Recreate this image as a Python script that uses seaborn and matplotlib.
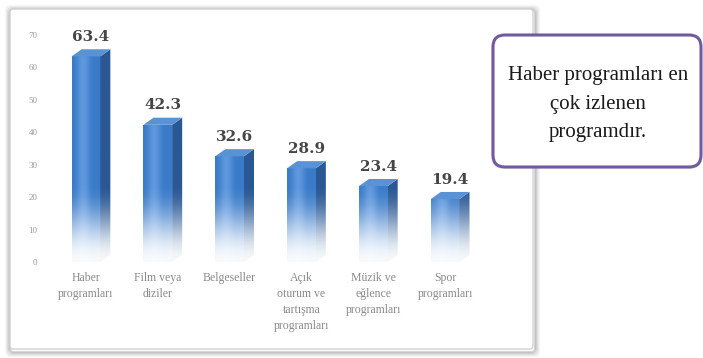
import numpy as np
import matplotlib
matplotlib.use("Agg")
import matplotlib.pyplot as plt
import seaborn as sns
from matplotlib.patches import FancyBboxPatch, Polygon
from matplotlib.colors import to_rgb

categories = [
    "Haber\nprogramları",
    "Film veya\ndiziler",
    "Belgeseller",
    "Açık\noturum ve\ntartışma\nprogramları",
    "Müzik ve\neğlence\nprogramları",
    "Spor\nprogramları",
]
values = [63.4, 42.3, 32.6, 28.9, 23.4, 19.4]
y_ticks = [0, 10, 20, 30, 40, 50, 60, 70]
note = "Haber programları en\nçok izlenen\nprogramdır."

sns.set_theme(style="white")
plt.rcParams["font.family"] = ["Liberation Serif", "DejaVu Serif"]

W, H = 703, 358
fig = plt.figure(figsize=(W / 100, H / 100), dpi=100)
fig.patch.set_facecolor("white")

# pixel-space layer for the card behind the chart
bg = fig.add_axes([0, 0, 1, 1], zorder=0)
bg.set_xlim(0, W)
bg.set_ylim(H, 0)
bg.axis("off")

px0, py0, px1, py1 = 10, 9, 533, 349
for i, a in enumerate([0.22, 0.16, 0.11, 0.07, 0.04]):
    g = i + 1
    bg.add_patch(FancyBboxPatch((px0 - g + 1, py0 - g + 2), (px1 - px0) + 2 * g, (py1 - py0) + 2 * g,
                                boxstyle="round,pad=0,rounding_size=4",
                                facecolor="none", edgecolor=(0.35, 0.35, 0.35, a), lw=1.6))
bg.add_patch(FancyBboxPatch((px0, py0), px1 - px0, py1 - py0,
                            boxstyle="round,pad=0,rounding_size=3",
                            facecolor="white", edgecolor="#d2d2d2", lw=1.0))

# main chart
ax = fig.add_axes([50 / W, 96 / H, 431 / W, 227 / H], zorder=1)
ax.patch.set_alpha(0)
df = {"cat": categories, "val": values}
sns.barplot(x="cat", y="val", data=df, color="#4a86d0", width=0.4, ax=ax,
            saturation=1, errorbar=None)

front_col = np.array(to_rgb("#3a7bc9"))
front_hi = np.array(to_rgb("#5f98dd"))
side_col = np.array(to_rgb("#2a5894"))
top_col = np.array(to_rgb("#5a92d6"))
white = np.ones(3)
fade_top = 24.0
dx, dy = 0.14, 2.2


def fade_img(h, col_l, col_c, ncols=24, nrows=300):
    ys = np.linspace(0, h, nrows)[:, None]
    u = np.linspace(0, 1, ncols)[None, :]
    t = np.clip(ys / fade_top, 0, 1)
    f = t * t * (3 - 2 * t)
    f = 0.04 + 0.96 * f
    hl = np.sin(np.pi * np.clip(u * 1.3, 0, 1)) ** 2
    base = col_l[None, None, :] * (1 - hl[..., None]) + col_c[None, None, :] * hl[..., None]
    return white * (1 - f[..., None]) + base * f[..., None]


for p, v in zip(ax.patches, values):
    x0, w, h = p.get_x(), p.get_width(), p.get_height()
    p.set_facecolor("none")
    p.set_edgecolor("none")
    im = ax.imshow(fade_img(h, front_col, front_hi), extent=[x0, x0 + w, 0, h],
                   origin="lower", aspect="auto", interpolation="bilinear", zorder=2)
    im.set_clip_path(p)
    side = Polygon([(x0 + w, 0), (x0 + w + dx, dy), (x0 + w + dx, h + dy), (x0 + w, h)],
                   closed=True, facecolor="none", edgecolor="none")
    ax.add_patch(side)
    ims = ax.imshow(fade_img(h + dy, side_col, side_col, ncols=4),
                    extent=[x0 + w, x0 + w + dx, 0, h + dy],
                    origin="lower", aspect="auto", interpolation="bilinear", zorder=2)
    ims.set_clip_path(side)
    ax.add_patch(Polygon([(x0, h), (x0 + w, h), (x0 + w + dx, h + dy), (x0 + dx, h + dy)],
                         closed=True, facecolor=top_col, edgecolor="none", zorder=3))
    ax.text(x0 + (w + dx) / 2, h + 6, f"{v:.1f}", ha="center", va="center",
            fontsize=11, fontweight="bold", family="DejaVu Serif", color="#454545",
            clip_on=False, zorder=4)

ax.set_xlim(-0.5, 5.5)
ax.set_ylim(0, 70)
ax.set_yticks(y_ticks)
ax.set_yticklabels([str(t) for t in y_ticks], fontsize=6.5, color="#9a9a9a")
ax.tick_params(axis="y", length=0, pad=9)
ax.tick_params(axis="x", length=0, pad=7)
for lab in ax.get_xticklabels():
    lab.set_fontsize(8.5)
    lab.set_color("#8a8a8a")
    lab.set_linespacing(1.45)
    lab.set_verticalalignment("top")
ax.set_xlabel("")
ax.set_ylabel("")
sns.despine(ax=ax, left=True, bottom=True)

# callout box on top
fg = fig.add_axes([0, 0, 1, 1], zorder=3)
fg.set_xlim(0, W)
fg.set_ylim(H, 0)
fg.axis("off")
fg.patch.set_alpha(0)
fg.add_patch(FancyBboxPatch((491, 37), 211, 132, boxstyle="round,pad=0,rounding_size=12",
                            facecolor=(0.5, 0.5, 0.5, 0.15), edgecolor="none"))
fg.add_patch(FancyBboxPatch((493, 35), 208, 132, boxstyle="round,pad=0,rounding_size=12",
                            facecolor="white", edgecolor="#735a9f", lw=2.2))
fg.text(598, 104, note, ha="center", va="center", fontsize=15, color="#1a1a1a",
        linespacing=1.7)

fig.savefig("out.png", dpi=100)
